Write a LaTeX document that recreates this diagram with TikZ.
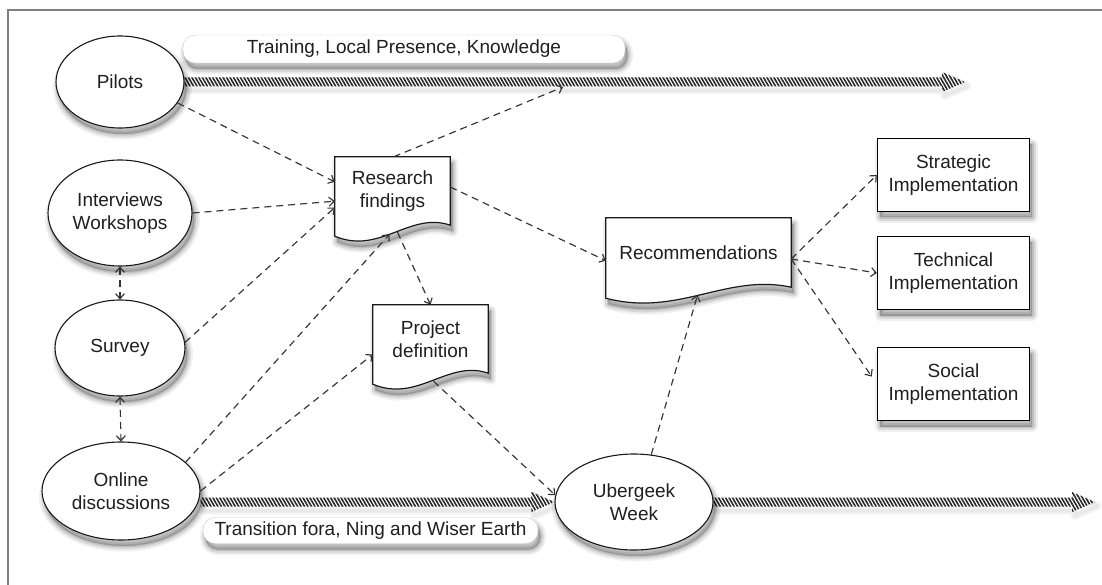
\documentclass[tikz,border=0pt]{standalone}
\usepackage{fontspec}
\setmainfont{Liberation Sans}
\usetikzlibrary{shapes.geometric,arrows.meta,calc,patterns.meta}

\pgfdeclarelayer{under}
\pgfsetlayers{under,main}

\tikzset{
  every node/.style={font=\fontsize{19}{22.5}\selectfont, text=black!88},
  % soft shadow built from a few translucent strokes of falling width
  shadowpass/.style n args={3}{preaction={draw=black, fill=none, line join=round,
      line width=#1, draw opacity=#2,
      transform canvas={xshift=2.5pt, yshift=#3}}},
  softshadow/.style={
      shadowpass={11pt}{0.06}{-6pt},
      shadowpass={7pt}{0.09}{-6pt},
      shadowpass={3pt}{0.12}{-6pt},
      preaction={draw=none, fill=black, fill opacity=0.2,
        transform canvas={xshift=2.5pt, yshift=-6pt}}},
  faintshadow/.style={
      shadowpass={8pt}{0.04}{-4pt},
      shadowpass={4pt}{0.05}{-4pt}},
  oval/.style={ellipse, draw=black!90, line width=1.1pt, fill=white,
      inner sep=0pt, align=center, softshadow},
  implbox/.style={rectangle, draw=black, line width=1.4pt, fill=white,
      minimum width=152, minimum height=73, align=center, softshadow},
  docnode/.style={rectangle, inner sep=0pt, align=center},
  docline/.style={draw=black!90, line width=1.2pt, fill=white, softshadow},
  pill/.style={rectangle, rounded corners=12pt, draw=black!20, fill=white,
      inner sep=0pt, softshadow},
  tipV/.tip={Straight Barb[length=5pt,width=9pt]},
  flow/.style={draw=black!80, line width=1.15pt, dash pattern=on 7pt off 5pt, -tipV},
  both/.style={flow, tipV-tipV},
  hatched/.style={faintshadow, preaction={fill=white},
      pattern={Lines[angle=-60,distance=3pt,line width=1.6pt]},
      pattern color=black!85}
}

% document outline with a wavy lower edge, drawn around a text node
\newcommand{\docoutline}[1]{%
  \path[docline] (#1.north west) -- (#1.north east) -- (#1.south east)
    .. controls ($(#1.south east)!0.35!(#1.south west)+(0,-14)$)
            and ($(#1.south west)!0.39!(#1.south east)+(0,30)$)
    .. ($(#1.south west)+(0,11)$) -- cycle;}

% broad hatched arrow running horizontally from #1 to the tip #2
\newcommand{\hatcharrow}[2]{%
  \path[hatched] ($(#1)+(0,-4.5)$) -- ($(#2)+(-23,-4.5)$) -- ($(#2)+(-23,-10)$)
    -- (#2) -- ($(#2)+(-23,10)$) -- ($(#2)+(-23,4.5)$) -- ($(#1)+(0,4.5)$) -- cycle;}

\begin{document}
\begin{tikzpicture}[x=1pt, y=-1pt]
\useasboundingbox (0,0) rectangle (1102,585);
\draw[black!50, line width=1.3pt] (8,585) -- (8,10) -- (1102,10);

% sources
\node[oval, minimum width=128, minimum height=92] (pilots) at (120,82) {Pilots};
\node[oval, minimum width=144, minimum height=106] (inter) at (120,213) {Interviews\\Workshops};
\node[oval, minimum width=130, minimum height=96] (survey) at (120,348) {Survey};
\node[oval, minimum width=158, minimum height=98] (online) at (121,491) {Online\\discussions};
\node[oval, minimum width=158, minimum height=96] (uber) at (634,502) {Ubergeek\\Week};

% documents
\node[docnode, minimum width=115, minimum height=68] (research) at (392.5,191) {Research\\findings};
\node[docnode, minimum width=115, minimum height=68] (project) at (430.5,339) {Project\\definition};
\node[docnode, minimum width=185, minimum height=69] (rec) at (698.5,252.5) {Recommendations};

% outcomes
\node[implbox] (strat) at (953.5,175) {Strategic\\Implementation};
\node[implbox] (tech) at (953.5,273) {Technical\\Implementation};
\node[implbox] (social) at (953.5,384) {Social\\Implementation};

% channel labels
\node[pill, minimum width=442, minimum height=28] (toplabel) at (404,49) {Training, Local Presence, Knowledge};
\node[pill, minimum width=335, minimum height=26] (botlabel) at (370.5,530.5) {Transition fora, Ning and Wiser Earth};

\coordinate (topend) at (965,82);
\coordinate (botend) at (1095,502);
\coordinate (bandhit) at (563,87);
\coordinate (olstart) at (online.east |- uber.west);

\begin{pgfonlayer}{under}
  \docoutline{research}
  \docoutline{project}
  \docoutline{rec}
  \hatcharrow{pilots.east}{topend}
  \hatcharrow{olstart}{uber.west}
  \hatcharrow{uber.east}{botend}
\end{pgfonlayer}

% dashed flows
\draw[flow] (pilots.-20) -- (research.171);
\draw[flow] (inter.east) -- (research.190);
\draw[flow] (survey.5) -- (research.196);
\draw[flow] (online.24) -- ($(research.south)+(-3,9)$);
\draw[flow] (online.east) -- (project.195);
\draw[flow] ($(research.south)+(5,7)$) -- (project.north);
\draw[flow] (research.88) -- (bandhit);
\draw[flow] (research.4) -- (rec.185);
\draw[flow] ($(project.south)+(3,8)$) -- (uber.175);
\draw[flow] (uber.70) -- ($(rec.south)+(-1,8)$);
\draw[flow] (rec.-4) -- (strat.west);
\draw[flow] (rec.-4) -- (tech.west);
\draw[flow, shorten >=9pt] (rec.-4) -- (social.west);
\draw[both] (inter.south) -- (survey.north);
\draw[both] (survey.south) -- (online.north);
\end{tikzpicture}
\end{document}
